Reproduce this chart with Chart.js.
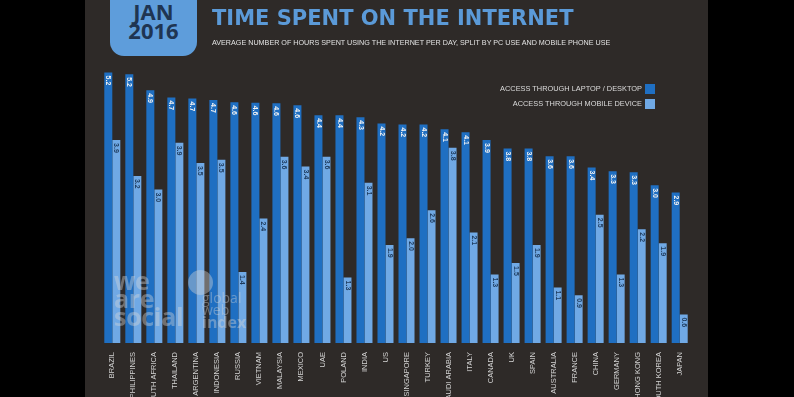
<!DOCTYPE html>
<html>
<head>
<meta charset="utf-8">
<script src="https://cdn.jsdelivr.net/npm/chart.js@4.4.1/dist/chart.umd.min.js"></script>
<style>
  html, body { margin: 0; padding: 0; background: #000; }
  #page { position: relative; width: 794px; height: 397px; overflow: hidden; background: #000; }
  #panel { position: absolute; left: 85px; top: 0; width: 623px; height: 397px; background: #2e2a28; }
  #chart { position: absolute; left: 0; top: 0; }
  .badge { position: absolute; left: 25px; top: -14px; width: 87px; height: 70px; background: #5e9ddb;
    border-radius: 14px; color: #1f3552; font: bold 22px "Open Sans", sans-serif; text-align: center; line-height: 19px; padding-top: 16px; box-sizing: border-box; }
  .title { position: absolute; left: 127px; top: 6px; color: #5b9ad8; font: bold 21px "DejaVu Sans", sans-serif; white-space: nowrap; }
  .subtitle { position: absolute; left: 127px; top: 38px; color: #e2e2e2; font: 7.2px "Liberation Sans", sans-serif; white-space: nowrap; }
  .legend { position: absolute; right: 53px; color: #dcdcdc; font: 7.4px "Liberation Sans", sans-serif; white-space: nowrap; line-height: 10px; }
  .legend span { display: inline-block; width: 10px; height: 10px; vertical-align: middle; margin-left: 3px; }
  .mark { position: absolute; color: rgba(215,215,215,0.4); z-index: 2; white-space: nowrap; }
</style>
</head>
<body>
<div id="page">
  <div id="panel">
    <canvas id="chart" width="623" height="397"></canvas>
    <div class="badge">JAN<br>2016</div>
    <div class="title" id="title">TIME SPENT ON THE INTERNET</div>
    <div class="subtitle" id="subtitle">AVERAGE NUMBER OF HOURS SPENT USING THE INTERNET PER DAY, SPLIT BY PC USE AND MOBILE PHONE USE</div>
    <div class="legend" style="top:84px">ACCESS THROUGH LAPTOP / DESKTOP<span style="background:#1f6fc2"></span></div>
    <div class="legend" style="top:99px">ACCESS THROUGH MOBILE DEVICE<span style="background:#70a9e5"></span></div>
    <div class="mark" style="left:29px;top:271px;font:bold 25px/18px 'Open Sans',sans-serif;letter-spacing:-0.3px">we<br>are<br>social</div>
    <div class="mark" style="left:103px;top:270px;width:25px;height:25px;border-radius:50%;background:rgba(215,215,215,0.4)"></div>
    <div class="mark" style="left:117px;top:292px;font:14px/12px 'Open Sans',sans-serif">global<br>web<br><b style="font-size:16px">index</b></div>
  </div>
</div>
<script>
// Données (heures par jour)
var pays = ['BRAZIL', 'PHILIPPINES', 'SOUTH AFRICA', 'THAILAND', 'ARGENTINA', 'INDONESIA', 'RUSSIA',
  'VIETNAM', 'MALAYSIA', 'MEXICO', 'UAE', 'POLAND', 'INDIA', 'US', 'SINGAPORE', 'TURKEY', 'SAUDI ARABIA',
  'ITALY', 'CANADA', 'UK', 'SPAIN', 'AUSTRALIA', 'FRANCE', 'CHINA', 'GERMANY', 'HONG KONG', 'SOUTH KOREA', 'JAPAN'];
var tempsOrdi = [5.21, 5.18, 4.87, 4.73, 4.71, 4.68, 4.64, 4.63, 4.62, 4.58, 4.39, 4.39, 4.35, 4.23,
  4.21, 4.21, 4.12, 4.06, 3.91, 3.75, 3.75, 3.6, 3.6, 3.38, 3.31, 3.29, 3.04, 2.9];
var tempsMobile = [3.91, 3.22, 2.96, 3.86, 3.47, 3.53, 1.37, 2.4, 3.59, 3.4, 3.59, 1.26, 3.09, 1.89,
  2.02, 2.56, 3.76, 2.13, 1.32, 1.54, 1.89, 1.07, 0.92, 2.47, 1.32, 2.19, 1.92, 0.55];

// Etiquettes de valeur verticales en haut des barres
var etiquettes = {
  id: 'etiquettes',
  afterDatasetsDraw: function(chart) {
    var ctx = chart.ctx;
    chart.data.datasets.forEach(function(ds, i) {
      var meta = chart.getDatasetMeta(i);
      ctx.save();
      ctx.font = 'bold 7px "Liberation Sans", sans-serif';
      ctx.fillStyle = i === 0 ? '#f2f2f2' : '#1d3a5c';
      ctx.textAlign = 'left';
      ctx.textBaseline = 'middle';
      meta.data.forEach(function(bar, j) {
        ctx.save();
        ctx.translate(bar.x, bar.y + 3);
        ctx.rotate(Math.PI / 2);
        ctx.fillText(ds.data[j].toFixed(1), 0, 0);
        ctx.restore();
      });
      ctx.restore();
    });
  }
};

new Chart(document.getElementById('chart'), {
  type: 'bar',
  data: {
    labels: pays,
    datasets: [{
      label: 'ACCESS THROUGH LAPTOP / DESKTOP',
      data: tempsOrdi,
      backgroundColor: '#1f6fc2'
    }, {
      label: 'ACCESS THROUGH MOBILE DEVICE',
      data: tempsMobile,
      backgroundColor: '#70a9e5'
    }]
  },
  options: {
    responsive: false,
    animation: false,
    datasets: { bar: { categoryPercentage: 0.762, barPercentage: 1.0 } },
    layout: { padding: { left: 16.8, right: 17.8, top: 31.6, bottom: 0 } },
    plugins: { legend: { display: false }, tooltip: { enabled: false } },
    scales: {
      y: { display: false, min: 0, max: 6 },
      x: {
        grid: { display: false },
        border: { display: false },
        afterFit: function(scale) { scale.height = 54; },
        ticks: {
          color: '#d2d2d2',
          font: { family: '"Liberation Sans Narrow", "Liberation Sans", sans-serif', size: 7.5 },
          minRotation: 90,
          maxRotation: 90,
          autoSkip: false,
          padding: 1
        }
      }
    }
  },
  plugins: [etiquettes]
});
</script>
</body>
</html>
